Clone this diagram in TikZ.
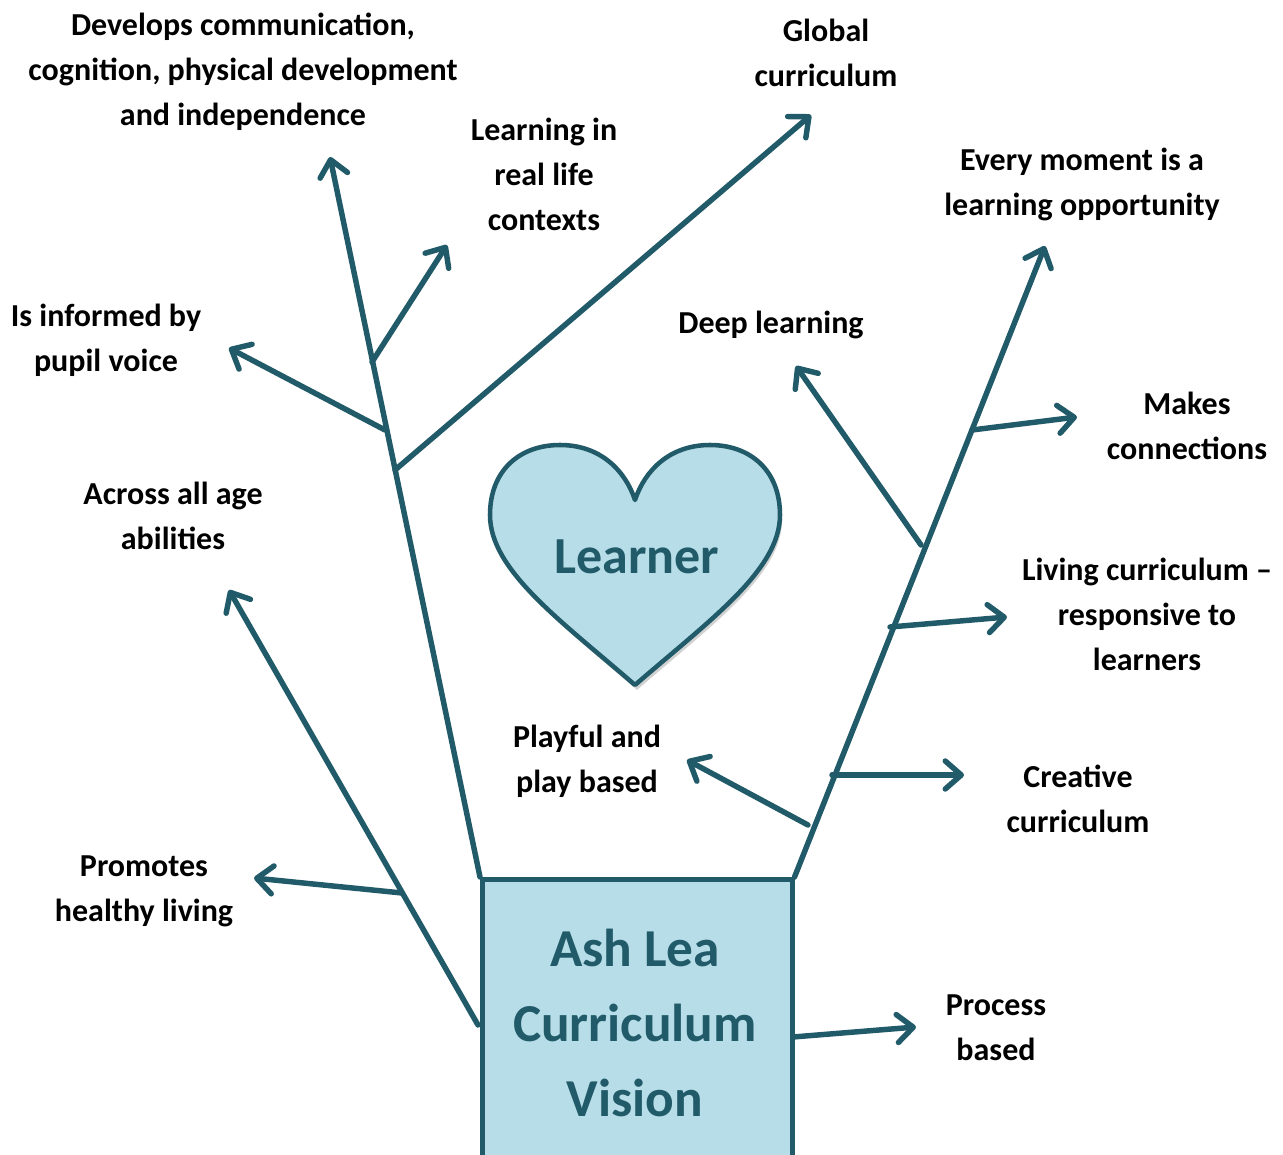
\documentclass[tikz,border=0pt]{standalone}
\usepackage{fontspec}
\setmainfont{Carlito}
\usetikzlibrary{arrows.meta}
\definecolor{teal}{HTML}{215A68}
\definecolor{lightb}{HTML}{B7DEE8}
\begin{document}
\begin{tikzpicture}[x=0.75pt,y=-0.75pt,
  lbl/.style={align=center,font=\fontsize{24}{33.75}\selectfont\bfseries,text=black,inner sep=0pt},
  branch/.style={draw=teal,line width=4.1pt,line cap=round,-{Straight Barb[length=12pt,width=21pt,line cap=round,line join=round]}}]
\useasboundingbox (0,0) rectangle (1283,1155);
% box
\node[draw=teal,fill=lightb,line width=3.4pt,minimum width=310*0.75pt,minimum height=320*0.75pt,anchor=north west,inner sep=0pt] (box) at (480,877) {};
\node[font=\fontsize{40}{56}\selectfont\bfseries,text=teal,align=center] (boxtext) at (635,1023) {Ash Lea\\Curriculum\\Vision};
% heart shadow
\fill[gray!35,shift={(2,5)}] (635,685) .. controls (560,620) and (490,570) .. (490,515)
 .. controls (490,470) and (520,445) .. (560,445)
 .. controls (600,445) and (625,470) .. (635,500)
 .. controls (645,470) and (670,445) .. (710,445)
 .. controls (750,445) and (780,470) .. (780,515)
 .. controls (780,570) and (710,620) .. (635,685) -- cycle;
\draw[draw=teal,fill=lightb,line width=3.4pt,line join=round] (635,685) .. controls (560,620) and (490,570) .. (490,515)
 .. controls (490,470) and (520,445) .. (560,445)
 .. controls (600,445) and (625,470) .. (635,500)
 .. controls (645,470) and (670,445) .. (710,445)
 .. controls (750,445) and (780,470) .. (780,515)
 .. controls (780,570) and (710,620) .. (635,685) -- cycle;
\node[font=\fontsize{39}{48}\selectfont\bfseries,text=teal] (heart) at (637,557) {Learner};
% coordinates
\coordinate (lt0) at (box.north west);
\coordinate (rt0) at (box.north east);
\coordinate (ltTip) at (330,157);
\coordinate (rtTip) at (1045,246);
\coordinate (bGlob) at (395,470);
\coordinate (tGlob) at (811,115);
\coordinate (bPup) at (385,430);
\coordinate (tPup) at (229,348);
\coordinate (bReal) at (372,362);
\coordinate (tReal) at (447,245);
\coordinate (bAge) at (478,1025);
\coordinate (tAge) at (229,590);
\coordinate (bHeal) at (402,893);
\coordinate (tHeal) at (254,878);
\coordinate (bDeep) at (921,545);
\coordinate (tDeep) at (796,366);
\coordinate (bConn) at (972,430);
\coordinate (tConn) at (1077,417);
\coordinate (bLiv) at (890,627);
\coordinate (tLiv) at (1007,617);
\coordinate (bCre) at (832,775);
\coordinate (tCre) at (964,775);
\coordinate (bPlay) at (808,825);
\coordinate (tPlay) at (687,760);
\coordinate (bProc) at (793,1037);
\coordinate (tProc) at (916,1027);
% trunks
\draw[branch] (lt0) -- (ltTip);
\draw[branch] (rt0) -- (rtTip);
% branches
\draw[branch] (bGlob) -- (tGlob);
\draw[branch] (bPup) -- (tPup);
\draw[branch] (bReal) -- (tReal);
\draw[branch] (bAge) -- (tAge);
\draw[branch] (bHeal) -- (tHeal);
\draw[branch] (bDeep) -- (tDeep);
\draw[branch] (bConn) -- (tConn);
\draw[branch] (bLiv) -- (tLiv);
\draw[branch] (bCre) -- (tCre);
\draw[branch] (bPlay) -- (tPlay);
\draw[branch] (bProc) -- (tProc);
% labels
\node[lbl] (lDev) at (243,72) {Develops communication,\\cognition, physical development\\and independence};
\node[lbl] (lReal) at (544,174) {Learning in\\real life\\contexts};
\node[lbl] (lGlob) at (826,53) {Global\\curriculum};
\node[lbl] (lEvery) at (1082,184) {Every moment is a\\learning opportunity};
\node[lbl] (lPup) at (106,340) {Is informed by\\pupil voice};
\node[lbl] (lDeep) at (771,325) {Deep learning};
\node[lbl] (lConn) at (1187,426) {Makes\\connections};
\node[lbl] (lAge) at (173,516) {Across all age\\abilities};
\node[lbl] (lLiv) at (1147,614) {Living curriculum --\\responsive to\\learners};
\node[lbl] (lPlay) at (587,761) {Playful and\\play based};
\node[lbl] (lCre) at (1078,799) {Creative\\curriculum};
\node[lbl] (lHeal) at (144,891) {Promotes\\healthy living};
\node[lbl] (lProc) at (996,1028) {Process\\based};
\end{tikzpicture}
\end{document}
